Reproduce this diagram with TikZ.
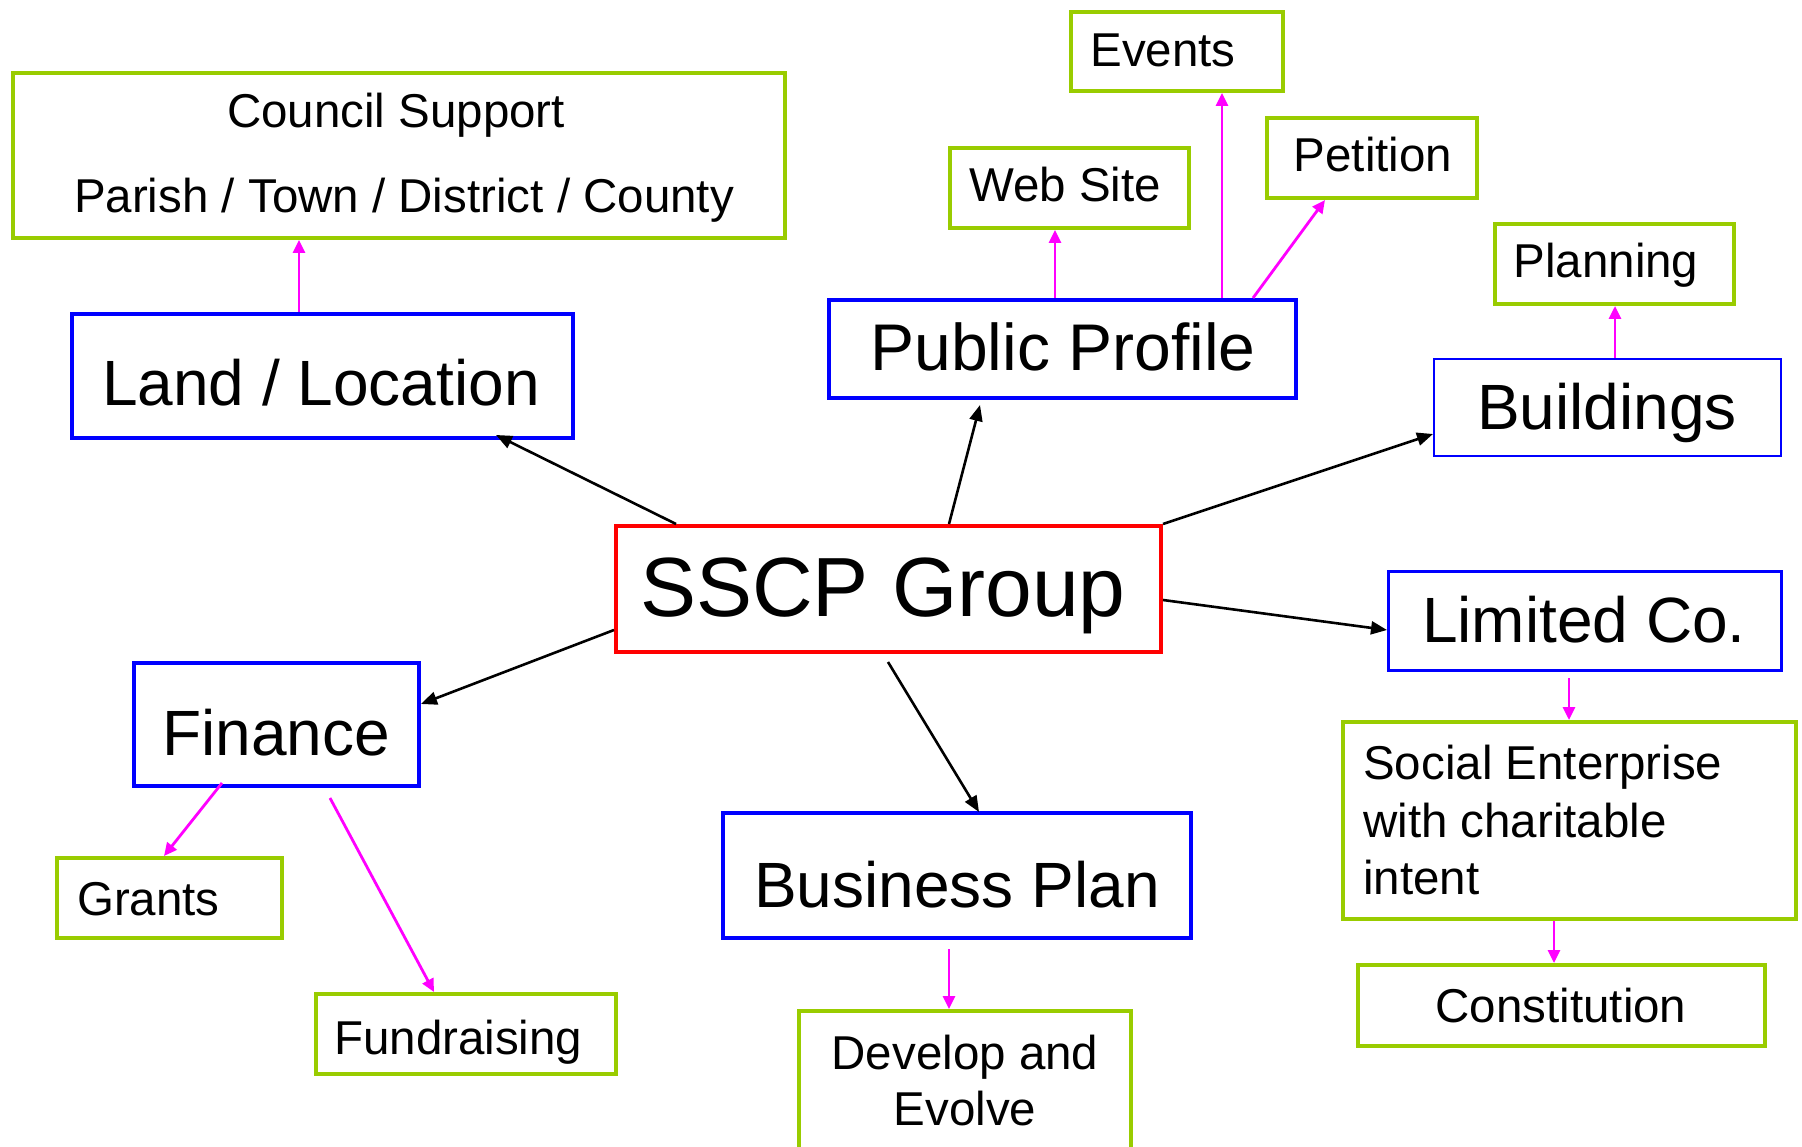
\documentclass[tikz,border=0pt]{standalone}
\usepackage{fontspec}
\setmainfont{Liberation Sans}
\usetikzlibrary{arrows.meta,calc}
\definecolor{gbox}{HTML}{99CC00}
\definecolor{bbox}{HTML}{0000FF}
\definecolor{rbox}{HTML}{FF0000}
\definecolor{mag}{HTML}{FF00FF}
\begin{document}
\begin{tikzpicture}[x=1pt,y=-1pt,
  box/.style={draw,rectangle,inner sep=0pt,outer sep=0pt,anchor=north west},
  greenbox/.style={box,draw=gbox,line width=4pt},
  bluebox/.style={box,draw=bbox,line width=3.5pt},
  redbox/.style={box,draw=rbox,line width=3.5pt},
  bigtxt/.style={inner sep=0pt,font=\fontsize{64}{77}\selectfont},
  hugetxt/.style={inner sep=0pt,font=\fontsize{84}{100}\selectfont},
  smalltxt/.style={inner sep=0pt,font=\fontsize{47.5}{57}\selectfont},
  mainarrow/.style={draw=black,line width=2.6pt,-{Triangle[length=16pt,width=13pt]}},
  subarrow/.style={draw=mag,line width=2.8pt,-{Triangle[length=13pt,width=12pt]}}
]
\useasboundingbox (0,0) rectangle (1802,1147);
\fill[white] (0,0) rectangle (1802,1147);

% boxes
\node[greenbox,minimum width=772pt,minimum height=165pt] (council) at (13,73) {};
\node[bluebox,minimum width=501pt,minimum height=124pt] (land) at (72,314) {};
\node[greenbox,minimum width=212pt,minimum height=79pt] (events) at (1071,12) {};
\node[greenbox,minimum width=239pt,minimum height=80pt] (website) at (950,148) {};
\node[greenbox,minimum width=210pt,minimum height=80pt] (petition) at (1267,118) {};
\node[bluebox,line width=4pt,minimum width=467pt,minimum height=98pt] (public) at (829,300) {};
\node[greenbox,minimum width=239pt,minimum height=80pt] (planning) at (1495,224) {};
\node[box,draw=bbox,line width=2pt,minimum width=347pt,minimum height=97pt] (buildings) at (1434,359) {};
\node[redbox,minimum width=545pt,minimum height=126pt] (sscp) at (616,526) {};
\node[bluebox,line width=3pt,minimum width=393pt,minimum height=99pt] (limited) at (1388,571) {};
\node[greenbox,minimum width=453pt,minimum height=197pt] (social) at (1343,722) {};
\node[greenbox,minimum width=407pt,minimum height=81pt] (constitution) at (1358,965) {};
\node[bluebox,minimum width=285pt,minimum height=123pt] (finance) at (134,663) {};
\node[greenbox,minimum width=225pt,minimum height=80pt] (grants) at (57,858) {};
\node[greenbox,minimum width=300pt,minimum height=80pt] (fundraising) at (316,994) {};
\node[bluebox,minimum width=468pt,minimum height=125pt] (business) at (723,813) {};
\node[greenbox,minimum width=332pt,minimum height=145pt] (develop) at (799,1011) {};

% texts
\node[smalltxt,anchor=base] (tcouncil) at (396,128) {Council Support};
\node[smalltxt,anchor=base] (tparish) at (404,213) {Parish / Town / District / County};
\node[bigtxt,anchor=base] (tland) at (321,406) {Land / Location};
\node[smalltxt,anchor=base] (twebsite) at (1065,202) {Web Site};
\node[smalltxt,anchor=base] (tevents) at (1163,67) {Events};
\node[smalltxt,anchor=base] (tpetition) at (1373,172) {Petition};
\node[bigtxt,font=\fontsize{66}{80}\selectfont,anchor=base] (tpublic) at (1063,371) {Public Profile};
\node[smalltxt,anchor=base] (tplanning) at (1606,278) {Planning};
\node[bigtxt,anchor=base] (tbuildings) at (1607,430) {Buildings};
\node[hugetxt,anchor=base] (tsscp) at (883,616) {SSCP Group};
\node[bigtxt,anchor=base] (tlimited) at (1584,642) {Limited Co.};
\node[smalltxt,anchor=base west] (tsocial1) at (1363,779) {Social Enterprise};
\node[smalltxt,anchor=base west] (tsocial2) at (1363,837) {with charitable};
\node[smalltxt,anchor=base west] (tsocial3) at (1363,894) {intent};
\node[smalltxt,anchor=base] (tconst) at (1561,1022) {Constitution};
\node[bigtxt,anchor=base] (tfinance) at (276,755) {Finance};
\node[smalltxt,anchor=base west] (tgrants) at (77,915) {Grants};
\node[smalltxt,anchor=base west] (tfund) at (334,1054) {Fundraising};
\node[bigtxt,anchor=base] (tbusiness) at (957,907) {Business Plan};
\node[smalltxt,anchor=base] (tdevelop1) at (965,1069) {Develop and};
\node[smalltxt,anchor=base] (tdevelop2) at (965,1125) {Evolve};

% main connectors
\draw[mainarrow] ($(sscp.north west)+(60,-2)$) -- ($(land.south west)+(424,-3)$);
\draw[mainarrow] ($(sscp.north west)+(333,-2)$) -- ($(public.south west)+(151,7)$);
\draw[mainarrow] ($(sscp.north east)+(2,-2)$) -- ($(buildings.south west)+(-1,-22)$);
\draw[mainarrow] ($(sscp.north east)+(2,74)$) -- ($(limited.north west)+(-1,59)$);
\draw[mainarrow] ($(sscp.north west)+(-2,104)$) -- ($(finance.north east)+(2,41)$);
\draw[mainarrow] ($(sscp.south west)+(272,10)$) -- ($(business.north west)+(256,-1)$);

% sub connectors
\draw[subarrow] ($(land.north west)+(227,-2)$) -- ($(council.south west)+(286,2)$);
\draw[subarrow] ($(public.north west)+(226,-2)$) -- ($(website.south west)+(105,2)$);
\draw[subarrow] ($(public.north west)+(393,-2)$) -- ($(events.south west)+(151,2)$);
\draw[subarrow] ($(public.north west)+(424,-2)$) -- ($(petition.south west)+(58,2)$);
\draw[subarrow] ($(buildings.north west)+(181,-1)$) -- ($(planning.south west)+(120,2)$);
\draw[subarrow] ($(finance.south west)+(88,-3)$) -- ($(grants.north west)+(107,-2)$);
\draw[subarrow] ($(finance.south west)+(196,12)$) -- ($(fundraising.north west)+(118,-2)$);
\draw[subarrow] ($(business.south west)+(226,11)$) -- ($(develop.north west)+(150,-2)$);
\draw[subarrow] ($(limited.south west)+(181,8)$) -- ($(social.north west)+(226,-2)$);
\draw[subarrow] ($(social.south west)+(211,2)$) -- ($(constitution.north west)+(196,-2)$);
\end{tikzpicture}
\end{document}
